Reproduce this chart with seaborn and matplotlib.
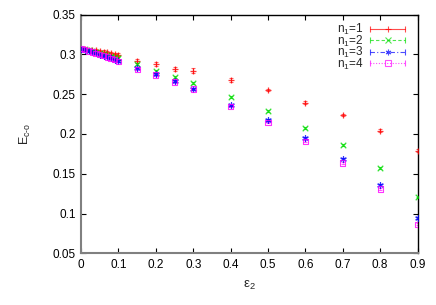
"""
E_c-o versus epsilon_2 for n1 = 1..4 (gnuplot-style errorbar plot)
"""

import matplotlib

matplotlib.use("Agg")
import matplotlib.pyplot as plt
from matplotlib.lines import Line2D
from matplotlib.legend_handler import HandlerLine2D
import pandas as pd
import seaborn as sns

# Data
eps2 = [0.00, 0.01, 0.02, 0.03, 0.04, 0.05, 0.06, 0.07, 0.08, 0.09, 0.10,
        0.15, 0.20, 0.25, 0.30, 0.40, 0.50, 0.60, 0.70, 0.80, 0.90]

e_n1 = [0.3070, 0.3066, 0.3061, 0.3056, 0.3050, 0.3043, 0.3035, 0.3026, 0.3016, 0.3005, 0.2995,
        0.2918, 0.2876, 0.2813, 0.2796, 0.2679, 0.2553, 0.2393, 0.2243, 0.2042, 0.1790]
e_n2 = [0.3070, 0.3063, 0.3054, 0.3044, 0.3033, 0.3022, 0.3010, 0.2998, 0.2986, 0.2973, 0.2960,
        0.2876, 0.2796, 0.2717, 0.2641, 0.2465, 0.2290, 0.2080, 0.1858, 0.1572, 0.1204]
e_n3 = [0.3068, 0.3056, 0.3042, 0.3027, 0.3012, 0.2997, 0.2982, 0.2966, 0.2950, 0.2933, 0.2915,
        0.2834, 0.2754, 0.2666, 0.2570, 0.2360, 0.2176, 0.1950, 0.1690, 0.1359, 0.0948]
e_n4 = [0.3070, 0.3058, 0.3044, 0.3030, 0.3015, 0.3000, 0.2984, 0.2968, 0.2951, 0.2934, 0.2915,
        0.2813, 0.2742, 0.2654, 0.2565, 0.2350, 0.2142, 0.1908, 0.1635, 0.1309, 0.0864]

err_n1 = [0.0010, 0.0010, 0.0012, 0.0012, 0.0014, 0.0015, 0.0016, 0.0017, 0.0018, 0.0018, 0.0020,
          0.0025, 0.0025, 0.0025, 0.0028, 0.0028, 0.0015, 0.0018, 0.0012, 0.0018, 0.0020]
err_n2 = [0.0008, 0.0008, 0.0008, 0.0009, 0.0009, 0.0010, 0.0010, 0.0010, 0.0011, 0.0011, 0.0012,
          0.0014, 0.0014, 0.0015, 0.0015, 0.0010, 0.0012, 0.0012, 0.0012, 0.0010, 0.0010]
err_n3 = [0.0006, 0.0006, 0.0006, 0.0007, 0.0007, 0.0007, 0.0008, 0.0008, 0.0008, 0.0008, 0.0009,
          0.0010, 0.0010, 0.0010, 0.0010, 0.0010, 0.0012, 0.0012, 0.0012, 0.0012, 0.0012]
err_n4 = [0.0006, 0.0006, 0.0006, 0.0007, 0.0007, 0.0007, 0.0008, 0.0008, 0.0008, 0.0008, 0.0009,
          0.0010, 0.0010, 0.0010, 0.0010, 0.0010, 0.0010, 0.0012, 0.0012, 0.0012, 0.0012]

series_labels = ["n$_1$=1", "n$_1$=2", "n$_1$=3", "n$_1$=4"]
colors = ["#ff0000", "#00dd00", "#0000ff", "#ff00ff"]
markers = ["+", "x", (6, 2, 0), "s"]
linestyles = ["-", (0, (3, 2)), (0, (4, 2, 1, 2)), (0, (1, 1.5))]

x_ticks = [0, 0.1, 0.2, 0.3, 0.4, 0.5, 0.6, 0.7, 0.8, 0.9]
y_ticks = [0.05, 0.1, 0.15, 0.2, 0.25, 0.3, 0.35]


class CapHandler(HandlerLine2D):
    """Legend sample like gnuplot: line, marker in middle, caps at the ends"""

    def create_artists(self, legend, orig_handle, xdescent, ydescent,
                       width, height, fontsize, trans):
        artists = super().create_artists(legend, orig_handle, xdescent, ydescent,
                                         width, height, fontsize, trans)
        y = height / 2 - ydescent
        caps = Line2D([-xdescent, width - xdescent], [y, y], ls="none",
                      marker="|", markersize=4, markeredgewidth=0.8,
                      color=orig_handle.get_color(), alpha=0.7, transform=trans)
        return artists + [caps]


def main():
    sns.set_style("ticks")
    plt.rcParams["font.family"] = ["Liberation Sans", "DejaVu Sans"]
    plt.rcParams["mathtext.fontset"] = "custom"
    plt.rcParams["mathtext.rm"] = "Liberation Sans"
    plt.rcParams["mathtext.it"] = "Liberation Sans:italic"

    rows = []
    for lab, vals, errs in zip(series_labels, [e_n1, e_n2, e_n3, e_n4],
                               [err_n1, err_n2, err_n3, err_n4]):
        for x, v, e in zip(eps2, vals, errs):
            rows.append({"eps2": x, "E": v, "err": e, "series": lab})
    df = pd.DataFrame(rows)

    fig = plt.figure(figsize=(4.36, 3.05), dpi=100)
    ax = fig.add_axes([0.186, 0.1695, 0.7716, 0.7825])

    for lab, col, ls, m in zip(series_labels, colors, linestyles, markers):
        sub = df[df["series"] == lab]
        # Error bars
        eb = ax.errorbar(sub["eps2"], sub["E"], yerr=sub["err"], fmt="none",
                         ecolor=col, elinewidth=0.8, capsize=1.5, capthick=0.8,
                         alpha=0.6)
        eb[2][0].set_linestyle(ls)
        # Points
        if m == "s":
            sns.scatterplot(data=sub, x="eps2", y="E", marker=m, s=14,
                            facecolors="none", edgecolor=col, linewidth=0.8,
                            alpha=0.8, ax=ax, zorder=3)
        else:
            sns.scatterplot(data=sub, x="eps2", y="E", marker=m, s=16,
                            color=col, linewidth=0.9, alpha=0.8, ax=ax, zorder=3)

    ax.set_xlim(0, 0.9)
    ax.set_ylim(0.05, 0.35)
    ax.set_xticks(x_ticks)
    ax.set_xticklabels([f"{t:g}" for t in x_ticks])
    ax.set_yticks(y_ticks)
    ax.set_yticklabels([f"{t:g}" for t in y_ticks])
    ax.tick_params(direction="in", length=3.5, width=0.8, labelsize=8.5,
                   top=True, right=True, pad=4, colors="black")

    for side in ["left", "bottom"]:
        ax.spines[side].set_color("#808080")
        ax.spines[side].set_linewidth(1.5)
    for side in ["top", "right"]:
        ax.spines[side].set_color("black")
        ax.spines[side].set_linewidth(1.0)

    ax.set_xlabel(r"$\mathregular{\varepsilon_2}$", fontsize=9.5, labelpad=6)
    ax.set_ylabel(r"E$_\mathregular{c\text{-}o}$", fontsize=9, labelpad=14)

    handles = [
        Line2D([], [], color=col, linestyle=ls, linewidth=0.8, marker=m,
               markersize=4, markerfacecolor="none" if m == "s" else col,
               markeredgewidth=0.8, alpha=0.7)
        for col, ls, m in zip(colors, linestyles, markers)
    ]
    ax.legend(handles, series_labels, loc="upper right", frameon=False,
              markerfirst=False, numpoints=1, handlelength=2.9,
              handletextpad=0.6, labelspacing=-0.3, fontsize=8.5,
              bbox_to_anchor=(0.962, 0.9695), borderaxespad=0.0, borderpad=0.0,
              handler_map={Line2D: CapHandler()})

    fig.savefig("out.png", dpi=100)
    plt.close(fig)


if __name__ == "__main__":
    main()
